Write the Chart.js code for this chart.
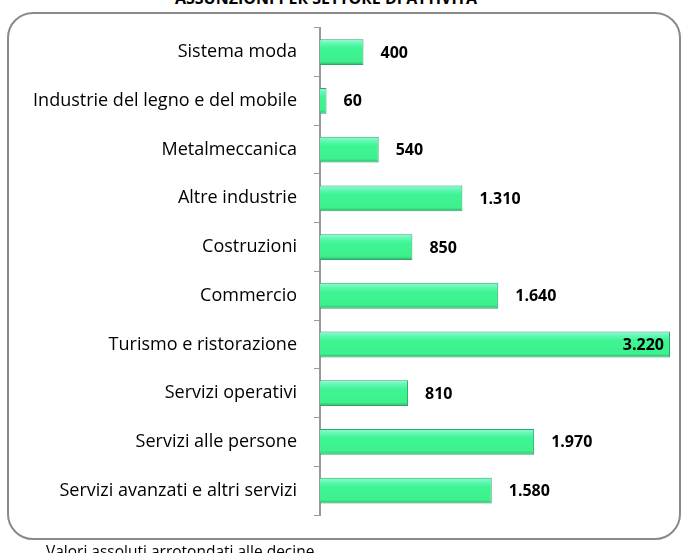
<!DOCTYPE html>
<html lang="it">
<head>
    <meta charset="UTF-8">
    <title>Assunzioni per settore di attività</title>
    <script src="https://cdn.jsdelivr.net/npm/chart.js"></script>
    <style>
        body {
            margin: 0;
            width: 683px;
            height: 553px;
            overflow: hidden;
            position: relative;
            background: #fff;
            font-family: "Open Sans", Arial, sans-serif;
        }
        #frame {
            position: absolute;
            left: 7px;
            top: 12px;
            width: 670px;
            height: 524px;
            border: 2px solid #8a8a8a;
            border-radius: 26px;
        }
        #title {
            position: absolute;
            top: -13px;
            left: 0;
            width: 652px;
            text-align: center;
            font-weight: bold;
            font-size: 16px;
        }
        #note {
            position: absolute;
            left: 46px;
            top: 540px;
            font-size: 15.5px;
        }
        .chart-box {
            position: absolute;
            left: 0;
            top: 0;
        }
    </style>
</head>
<body>
    <div id="frame"></div>
    <div id="title">ASSUNZIONI PER SETTORE DI ATTIVITÀ</div>
    <div class="chart-box">
        <canvas id="barChart" width="683" height="553"></canvas>
    </div>
    <div id="note">Valori assoluti arrotondati alle decine</div>

    <script>
        const sectors = [
            'Sistema moda',
            'Industrie del legno e del mobile',
            'Metalmeccanica',
            'Altre industrie',
            'Costruzioni',
            'Commercio',
            'Turismo e ristorazione',
            'Servizi operativi',
            'Servizi alle persone',
            'Servizi avanzati e altri servizi'
        ];
        const hires = [400, 60, 540, 1310, 850, 1640, 3220, 810, 1970, 1580];

        const fmt = v => v.toLocaleString('de-DE');

        // value labels: outside the bar, inside for the longest one
        const valueLabels = {
            id: 'valueLabels',
            afterDatasetsDraw(chart) {
                const ctx = chart.ctx;
                const meta = chart.getDatasetMeta(0);
                const maxVal = Math.max(...hires);
                ctx.save();
                ctx.font = 'bold 16px "Open Sans", Arial, sans-serif';
                ctx.fillStyle = '#000';
                ctx.textBaseline = 'middle';
                meta.data.forEach((bar, i) => {
                    const v = hires[i];
                    if (v === maxVal) {
                        ctx.textAlign = 'right';
                        ctx.fillText(fmt(v), bar.x - 6, bar.y + 1);
                    } else {
                        ctx.textAlign = 'left';
                        ctx.fillText(fmt(v), bar.x + 17, bar.y + 1);
                    }
                });
                ctx.restore();
            }
        };

        const ctx = document.getElementById('barChart').getContext('2d');

        new Chart(ctx, {
            type: 'bar',
            data: {
                labels: sectors,
                datasets: [{
                    data: hires,
                    backgroundColor: (c) => {
                        const chart = c.chart;
                        const yScale = chart.scales.y;
                        if (!chart.chartArea || !yScale || c.dataIndex === undefined) return '#3ef593';
                        const cy = yScale.getPixelForValue(c.dataIndex);
                        if (!isFinite(cy)) return '#3ef593';
                        const h = 26;
                        const top = cy - h / 2;
                        const g = chart.ctx.createLinearGradient(0, top, 0, top + h);
                        g.addColorStop(0, '#8ffcd8');
                        g.addColorStop(0.18, '#5ff7b0');
                        g.addColorStop(0.35, '#3ef593');
                        g.addColorStop(0.85, '#3ef08e');
                        g.addColorStop(1, '#2fb46c');
                        return g;
                    },
                    borderColor: '#2aa865',
                    borderWidth: 1,
                    barPercentage: 0.53,
                    categoryPercentage: 1
                }]
            },
            options: {
                indexAxis: 'y',
                responsive: false,
                animation: false,
                devicePixelRatio: 1,
                layout: {
                    padding: { left: 0, right: 13, top: 25, bottom: 38 }
                },
                scales: {
                    x: {
                        display: false,
                        min: 0,
                        max: 3220
                    },
                    y: {
                        afterFit: (scale) => { scale.width = 320; },
                        grid: {
                            offset: true,
                            drawOnChartArea: false,
                            drawTicks: true,
                            tickLength: 6,
                            color: '#999'
                        },
                        border: { display: true, color: '#999', width: 2 },
                        ticks: {
                            color: '#000',
                            padding: 17,
                            font: { family: '"Open Sans", Arial, sans-serif', size: 18 }
                        }
                    }
                },
                plugins: {
                    legend: { display: false },
                    tooltip: { enabled: false }
                }
            },
            plugins: [valueLabels]
        });
    </script>
</body>
</html>
